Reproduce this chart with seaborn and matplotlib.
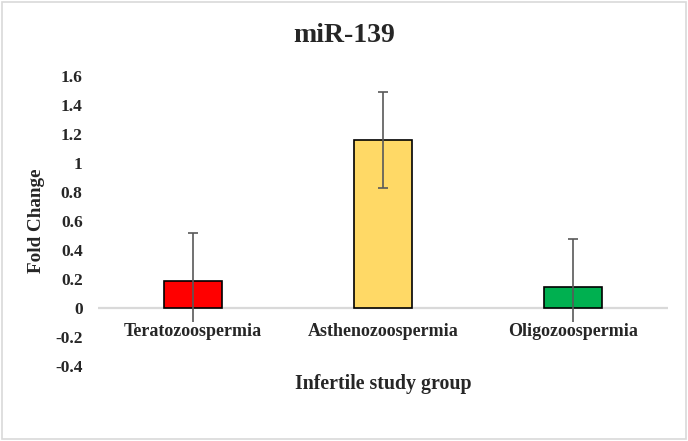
import matplotlib
matplotlib.use("Agg")
import matplotlib.pyplot as plt
import seaborn as sns
import pandas as pd
from matplotlib.patches import Rectangle

groups = ["Teratozoospermia", "Asthenozoospermia", "Oligozoospermia"]
fold_change = [0.185, 1.157, 0.143]
errors = [0.333, 0.330, 0.334]
colors = ["#FF0000", "#FFD966", "#00B050"]
yticks = [-0.4, -0.2, 0, 0.2, 0.4, 0.6, 0.8, 1, 1.2, 1.4, 1.6]
ytick_labels = ["-0.4", "-0.2", "0", "0.2", "0.4", "0.6", "0.8", "1", "1.2", "1.4", "1.6"]

sns.set_style("white")
plt.rcParams["font.family"] = ["Liberation Serif", "DejaVu Serif"]
plt.rcParams["font.weight"] = "bold"

df = pd.DataFrame({"group": groups, "fc": fold_change})

fig = plt.figure(figsize=(6.88, 4.41), dpi=100)
ax = fig.add_axes([98 / 688, 75 / 441, 570 / 688, 290 / 441])

sns.barplot(data=df, x="group", y="fc", hue="group", palette=colors,
            saturation=1, legend=False, width=0.31, edgecolor="black",
            linewidth=1.2, ax=ax, zorder=2)
ax.errorbar(range(len(groups)), fold_change, yerr=errors, fmt="none",
            ecolor="#595959", elinewidth=1.2, capsize=3.5, capthick=1.2, zorder=3)

ax.axhline(0, color="#d9d9d9", lw=1.6, zorder=1)
ax.set_xlim(-0.5, 2.5)
ax.set_ylim(-0.4, 1.6)
ax.set_yticks(yticks, labels=ytick_labels)
ax.tick_params(axis="y", length=0, pad=11, labelsize=12.5)
ax.tick_params(axis="x", bottom=False, labelbottom=False)
for s in ax.spines.values():
    s.set_visible(False)

# category names sit right under the zero line, Excel style (drawn over the lower error bars)
for i, g in enumerate(groups):
    ax.text(i, -0.16, g, ha="center", va="center", fontsize=13,
            fontweight="bold", zorder=4,
            bbox=dict(facecolor="white", edgecolor="none", pad=0.5))

ax.set_xlabel("Infertile study group", fontsize=14.3, fontweight="bold")
ax.xaxis.label.set_va("center")
ax.xaxis.set_label_coords(0.5, -0.062)
ax.set_ylabel("Fold Change", fontsize=13.8, fontweight="bold")
ax.yaxis.label.set_va("center")
ax.yaxis.set_label_coords(-0.108, 0.5)

fig.text(0.5, 1 - 35 / 441, "miR-139", ha="center", va="center",
         fontsize=20, fontweight="bold")

fig.patches.append(Rectangle((2 / 688, 2 / 441), 684 / 688, 437 / 441,
                             transform=fig.transFigure, fill=False,
                             edgecolor="#d9d9d9", lw=1.2))

fig.savefig("out.png", dpi=100)
